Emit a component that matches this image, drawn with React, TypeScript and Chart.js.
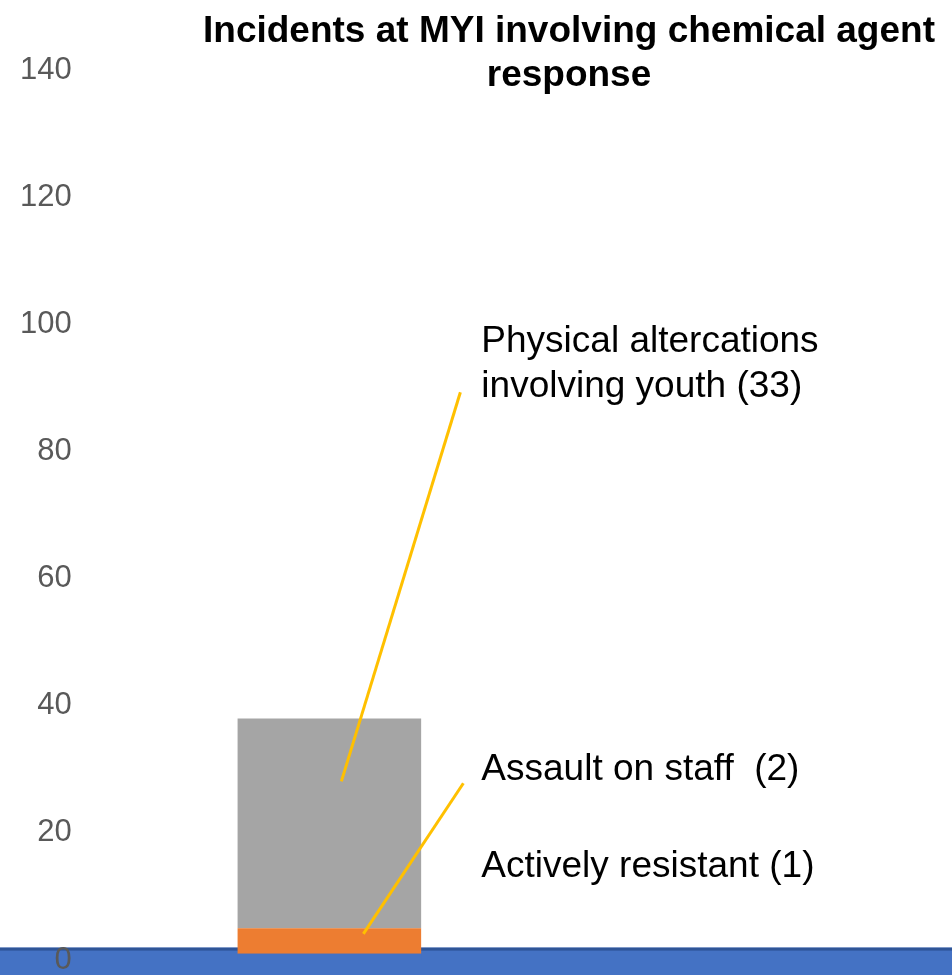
import React, { useEffect, useRef } from "react";
import { Chart, registerables } from "chart.js";

Chart.register(...registerables);

const categories = [""];
const seriesNames = ["Actively resistant", "Assault on staff", "Physical altercations involving youth"];
const activelyResistant = [1];
const assaultOnStaff = [4];
const physicalAltercations = [33];
const seriesColors = ["#4472C4", "#ED7D31", "#A5A5A5"];
const yTicks = [0, 20, 40, 60, 80, 100, 120, 140];
const titleLines = ["Incidents at MYI involving chemical agent", "response"];
const annotationLines = [
  { text: "Physical altercations", value: 95.6 },
  { text: "involving youth (33)", value: 88.6 },
  { text: "Assault on staff  (2)", value: 28.3 },
  { text: "Actively resistant (1)", value: 13.0 },
];

const FONT = "'Liberation Sans', Arial, Helvetica, sans-serif";

const bandPlugin = {
  id: "band",
  beforeDraw(chart: any) {
    const { ctx, width, height } = chart;
    const y = chart.scales.y.getPixelForValue(1.95);
    ctx.save();
    ctx.fillStyle = "#4472C4";
    ctx.fillRect(0, y, width, height - y);
    ctx.fillStyle = "#2F5597";
    ctx.fillRect(0, y, width, 3);
    ctx.restore();
  },
};

const annotPlugin = {
  id: "annot",
  afterDatasetsDraw(chart: any) {
    const { ctx } = chart;
    const ys = chart.scales.y;
    const cx = chart.scales.x.getPixelForValue(0);
    ctx.save();
    ctx.strokeStyle = "#FFC000";
    ctx.lineWidth = 3;
    const lines = [
      [131, 89.3, 12, 28.1],
      [134, 27.8, 34, 4.1],
    ];
    for (const [x1, v1, x2, v2] of lines) {
      ctx.beginPath();
      ctx.moveTo(cx + x1, ys.getPixelForValue(v1));
      ctx.lineTo(cx + x2, ys.getPixelForValue(v2));
      ctx.stroke();
    }
    ctx.fillStyle = "#000000";
    ctx.font = `37px ${FONT}`;
    ctx.textAlign = "left";
    ctx.textBaseline = "alphabetic";
    for (const a of annotationLines) {
      ctx.fillText(a.text, cx + 152, ys.getPixelForValue(a.value));
    }
    ctx.font = `bold 37px ${FONT}`;
    ctx.textAlign = "center";
    ctx.fillText(titleLines[0], 569, 42);
    ctx.fillText(titleLines[1], 569, 86);
    ctx.restore();
  },
};

export default function App() {
  const ref = useRef<HTMLCanvasElement | null>(null);
  useEffect(() => {
    if (!ref.current) return;
    const chart = new Chart(ref.current, {
      type: "bar",
      data: {
        labels: categories,
        datasets: [
          { label: seriesNames[0], data: activelyResistant, backgroundColor: seriesColors[0] },
          { label: seriesNames[1], data: assaultOnStaff, backgroundColor: seriesColors[1] },
          { label: seriesNames[2], data: physicalAltercations, backgroundColor: seriesColors[2] },
        ],
      },
      options: {
        animation: false,
        responsive: true,
        maintainAspectRatio: false,
        layout: { padding: { top: 70, bottom: 15, left: 2, right: 383 } },
        datasets: { bar: { barPercentage: 0.383, categoryPercentage: 1 } },
        plugins: {
          legend: { display: false },
          title: { display: false },
          tooltip: { enabled: false },
        },
        scales: {
          x: { stacked: true, display: false },
          y: {
            stacked: true,
            min: 0,
            max: 140,
            afterBuildTicks: (scale: any) => {
              scale.ticks = yTicks.map((v) => ({ value: v }));
            },
            afterFit: (scale: any) => {
              scale.paddingTop = 0;
              scale.paddingBottom = 0;
            },
            grid: { display: false, drawTicks: false },
            border: { display: false },
            ticks: {
              padding: 18,
              color: "#595959",
              font: { family: FONT, size: 31 },
            },
          },
        },
      },
      plugins: [bandPlugin, annotPlugin],
    });
    return () => chart.destroy();
  }, []);
  return (
    <div style={{ position: "fixed", left: 0, top: 0, width: 952, height: 975, background: "#ffffff" }}>
      <canvas ref={ref} />
    </div>
  );
}
